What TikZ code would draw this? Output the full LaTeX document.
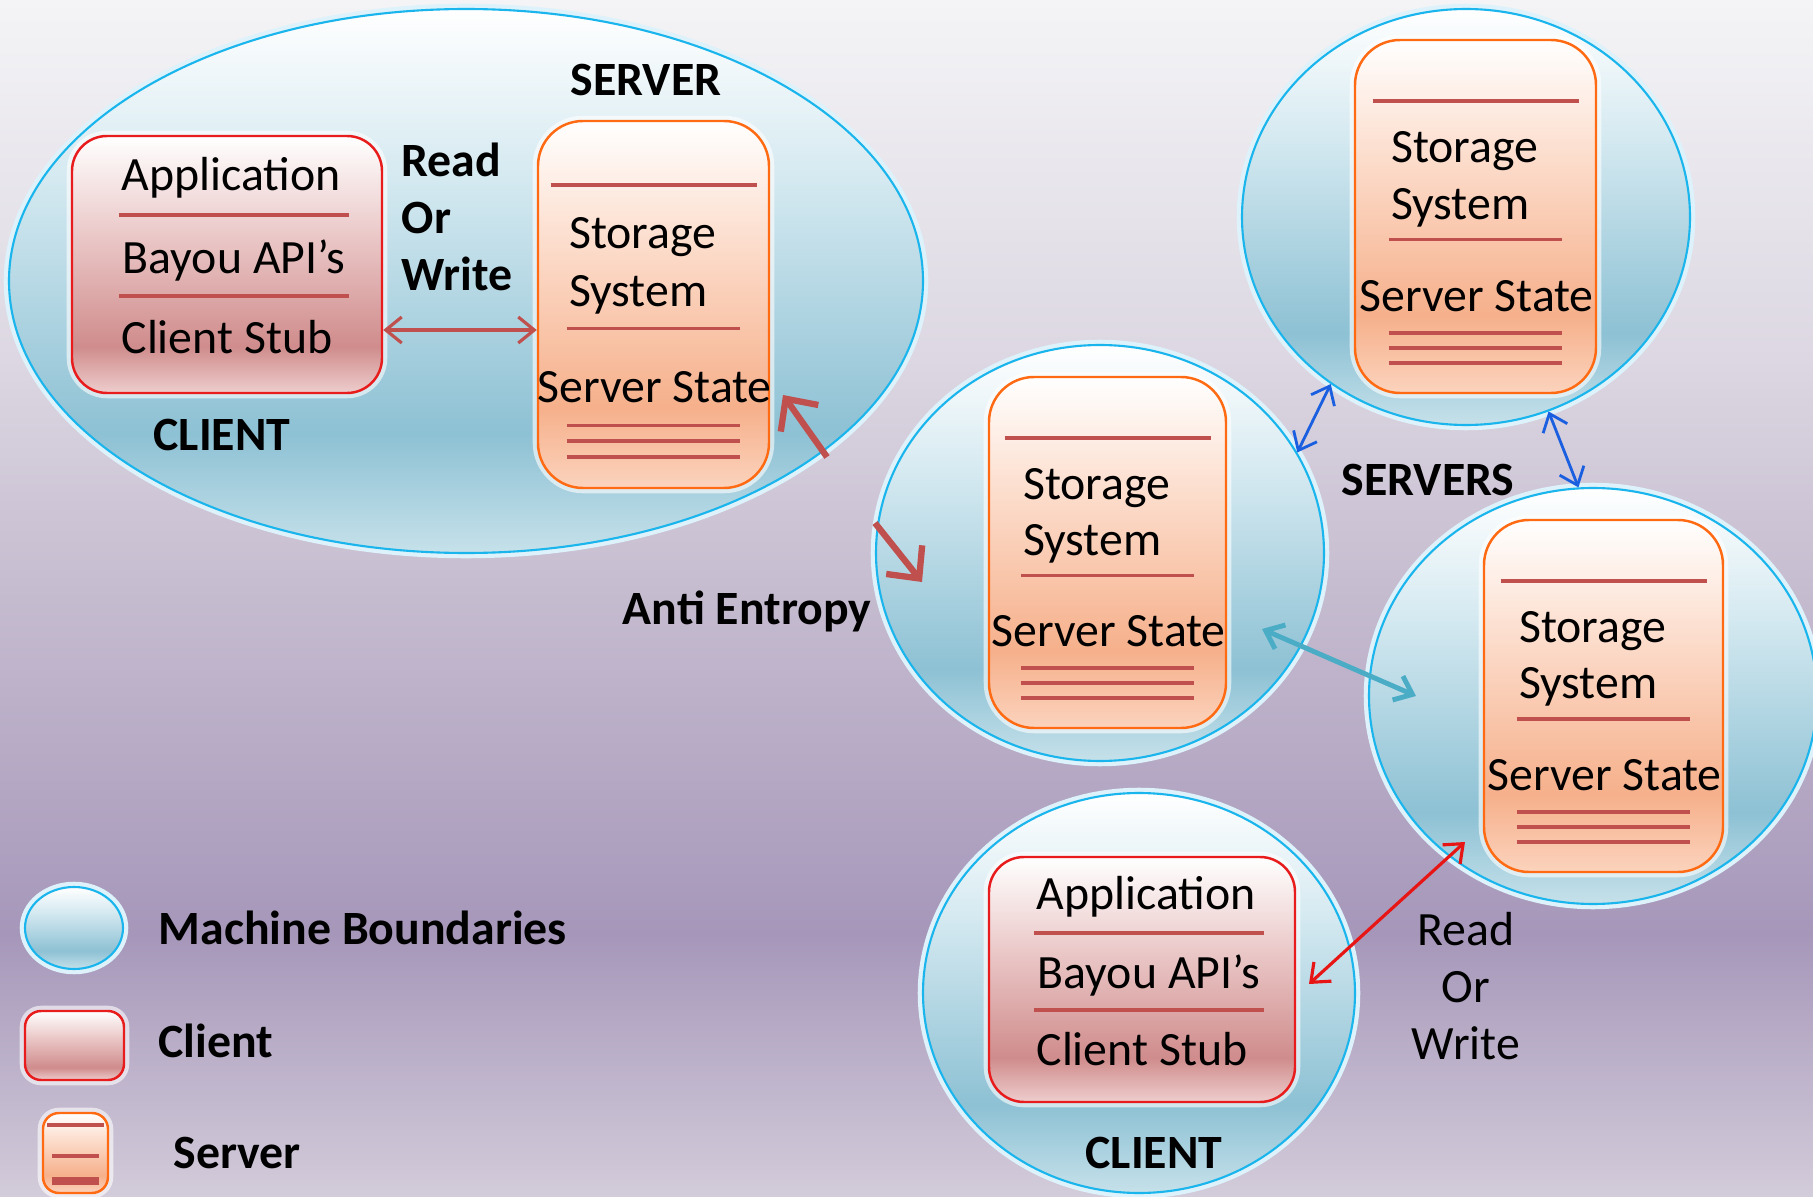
\documentclass[tikz,border=0pt]{standalone}
\usepackage{fontspec}
\setmainfont{Carlito}
\usetikzlibrary{shapes.geometric}
\usetikzlibrary{arrows.meta}
\tikzset{>={Straight Barb[length=1.6mm,width=2.6mm]}}

\definecolor{bgtop}{HTML}{F4F4F6}
\definecolor{bgup}{HTML}{DCD7E2}
\definecolor{bgmid}{HTML}{C5BBCF}
\definecolor{bglow}{HTML}{A697BA}
\definecolor{bgbot}{HTML}{D3CCDA}
\definecolor{mbline}{HTML}{19B5EC}
\definecolor{mbglow}{HTML}{DDF2FA}
\definecolor{mbup}{HTML}{D6EAF1}
\definecolor{mblow}{HTML}{8DC1D4}
\definecolor{mbbot}{HTML}{C6E1EA}
\definecolor{clline}{HTML}{E81C1C}
\definecolor{clup}{HTML}{EAC6C6}
\definecolor{cllow}{HTML}{D08C8C}
\definecolor{clbot}{HTML}{EECDCD}
\definecolor{srvline}{HTML}{FF6A13}
\definecolor{srvup}{HTML}{FCDCCB}
\definecolor{srvlow}{HTML}{F6B08B}
\definecolor{srvbot}{HTML}{FBD3BD}
\definecolor{sepred}{HTML}{C0504D}
\definecolor{syncblue}{HTML}{1A5FE0}
\definecolor{synclight}{HTML}{4BACC6}
\definecolor{rwred}{HTML}{E81515}

\pgfdeclareverticalshading{backdrop}{100bp}{color(0bp)=(bgbot); color(25bp)=(bgbot);
  color(36bp)=(bglow); color(50bp)=(bgmid); color(60bp)=(bgup); color(75bp)=(bgtop); color(100bp)=(bgtop)}
\pgfdeclareverticalshading{machineshade}{100bp}{color(0bp)=(mbbot); color(25bp)=(mbbot);
  color(36bp)=(mblow); color(60bp)=(mbup); color(75bp)=(white); color(100bp)=(white)}
\pgfdeclareverticalshading{clientshade}{100bp}{color(0bp)=(clbot); color(25bp)=(clbot);
  color(34bp)=(cllow); color(55bp)=(clup); color(75bp)=(white); color(100bp)=(white)}
\pgfdeclareverticalshading{servershade}{100bp}{color(0bp)=(srvbot); color(25bp)=(srvbot);
  color(36bp)=(srvlow); color(58bp)=(srvup); color(75bp)=(white); color(100bp)=(white)}

\tikzset{
  machine/.style={ellipse, inner sep=0pt, draw=mbline, line width=0.6pt, shade, shading=machineshade,
    preaction={draw=mbglow, line width=3pt}},
  clientbox/.style={rectangle, inner sep=0pt, rounded corners=3.5mm, draw=clline, line width=0.7pt,
    shade, shading=clientshade, preaction={draw=white, draw opacity=.6, line width=3pt}},
  serverbox/.style={rectangle, inner sep=0pt, rounded corners=4.5mm, draw=srvline, line width=0.7pt,
    shade, shading=servershade, preaction={draw=white, draw opacity=.6, line width=3pt}},
  sepline/.style={draw=sepred, line width=1.1pt},
  txt/.style={inner sep=0pt, font=\fontsize{13.6}{16.2}\selectfont},
  boldlabel/.style={inner sep=0pt, font=\fontsize{13.6}{16.2}\selectfont\bfseries},
}

% one server: name, x, y, height, width (px)
\newcommand\srvunit[5]{%
\begin{scope}[shift={(#2,#3)}, yscale=#4/352]
\node[serverbox, minimum height=#4*0.1mm, minimum width=#5*0.1mm] (#1-box) at (0,0) {};
\draw[sepline] (-103,-115) -- (103,-115);
\node[txt, anchor=west] (#1-sto) at (-85,-65) {Storage};
\node[txt, anchor=west] (#1-sys) at (-85,-9) {System};
\draw[sepline] (-87,23) -- (86,23);
\node[txt] (#1-state) at (1,79) {Server State};
\foreach \l in {116,131,146}
  \draw[sepline] (-87,\l) -- (86,\l);
\end{scope}}

% one client: name, x, y, height, width (px)
\newcommand\cliunit[5]{%
\begin{scope}[shift={(#2,#3)}, yscale=#4/251]
\node[clientbox, minimum height=#4*0.1mm, minimum width=#5*0.1mm] (#1-box) at (0,0) {};
\node[txt] (#1-app) at (4,-85) {Application};
\draw[sepline] (-108,-48) -- (122,-48);
\node[txt] (#1-api) at (7,-4) {Bayou API’s};
\draw[sepline] (-108,31) -- (122,31);
\node[txt] (#1-stub) at (0,71) {Client Stub};
\end{scope}}

\begin{document}
\begin{tikzpicture}[x=0.1mm, y=-0.1mm]
\useasboundingbox (0,0) rectangle (1813,1197);
\shade[shading=backdrop] (0,0) rectangle (1813,1197);

% machine boundaries
\node[machine, minimum width=91.4mm, minimum height=54.4mm] (m1) at (466,281) {};
\node[machine, minimum width=44.8mm, minimum height=41.6mm] (m2) at (1100,553) {};
\node[machine, minimum width=44.8mm, minimum height=41.6mm] (m3) at (1466,217) {};
\node[machine, minimum width=44.8mm, minimum height=41.6mm] (m4) at (1593,696) {};
\node[machine, minimum width=43.2mm, minimum height=40mm] (m5) at (1139,993) {};

% clients and servers
\cliunit{c1}{227}{264.5}{257}{310}
\cliunit{c2}{1142}{979.5}{245}{306}
\srvunit{s1}{653.5}{304.5}{367}{231}
\srvunit{s2}{1107.5}{552.5}{351}{237}
\srvunit{s3}{1475.5}{216.5}{353}{241}
\srvunit{s4}{1603.5}{696}{352}{239}

\node[boldlabel] (srvlbl) at (646,80) {SERVER};
\node[boldlabel] (clilbl) at (222,435) {CLIENT};
\node[boldlabel, align=left, anchor=west] (rwlbl) at (401,217) {Read\\Or\\Write};
\node[boldlabel] (aelbl) at (747,611) {Anti Entropy};
\node[boldlabel] (srvslbl) at (1428,480) {SERVERS};
\node[boldlabel] (cli2lbl) at (1154,1153) {CLIENT};
\node[txt, align=center] (rw2lbl) at (1466,986) {Read\\Or\\Write};

% connectors
\coordinate (c1-rw) at (0,330);
\draw[<->, sepred, line width=0.9pt] (c1-rw -| c1-box.east) -- (c1-rw -| s1-box.west);

\coordinate (ae1-from) at (827,457);
\coordinate (ae1-to) at (783,395);
\coordinate (ae2-from) at (875,523);
\coordinate (ae2-to) at (922,582);
\draw[-{Straight Barb[length=2.4mm,width=4.6mm]}, sepred, line width=1.8pt] (ae1-from) -- (ae1-to);
\draw[-{Straight Barb[length=2.4mm,width=4.6mm]}, sepred, line width=1.8pt] (ae2-from) -- (ae2-to);

\draw[<->, syncblue, line width=0.8pt] (m2.27) -- (m3.231);
\draw[<->, syncblue, line width=0.8pt] (m3.293) -- (m4.94);

\coordinate (sync-a) at (1262,629);
\coordinate (sync-b) at (1416,696);
\draw[<->, synclight, line width=1.4pt] (sync-a) -- (sync-b);

\coordinate (rw-a) at (1309,984);
\coordinate (rw-b) at (1465,842);
\draw[<->, rwred, line width=0.9pt] (rw-a) -- (rw-b);

% legend
\node[machine, minimum width=9.8mm, minimum height=8.2mm] (lmachine) at (74,928) {};
\node[clientbox, rounded corners=1.6mm, minimum width=9.9mm, minimum height=6.9mm] (lclient) at (74.5,1045.5) {};
\node[serverbox, rounded corners=1.6mm, minimum width=6.5mm, minimum height=8mm] (lserver) at (75.5,1153) {};
\draw[sepline] (47,1125) -- (104,1125);
\draw[sepline] (52,1156) -- (99,1156);
\draw[sepline, line width=2pt] (52,1181) -- (99,1181);
\node[boldlabel, anchor=west] (lmachinetxt) at (158,928) {Machine Boundaries};
\node[boldlabel, anchor=west] (lclienttxt) at (158,1041) {Client};
\node[boldlabel, anchor=west] (lservertxt) at (173,1153) {Server};
\end{tikzpicture}
\end{document}
